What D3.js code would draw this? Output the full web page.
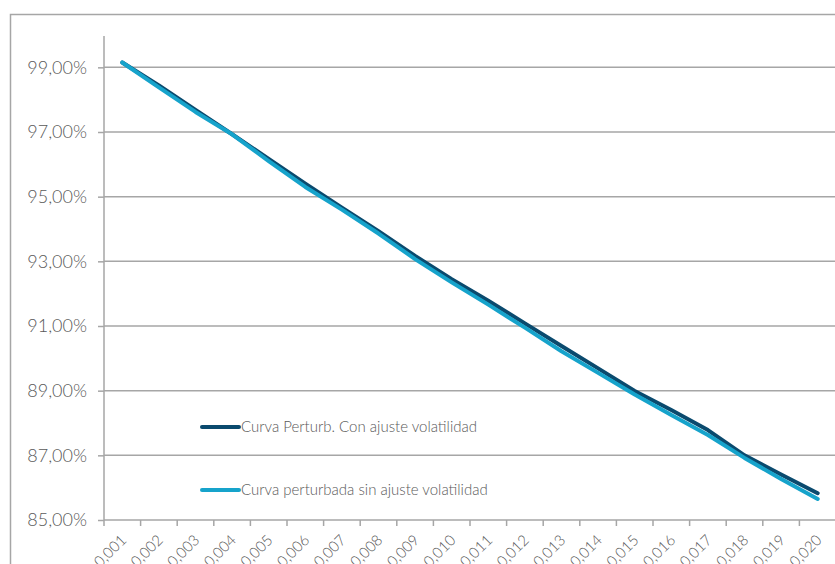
<!DOCTYPE html>
<html>
<head>
<meta charset="utf-8">
<script src="https://cdn.jsdelivr.net/npm/d3@7"></script>
<style>
  body { margin: 0; background: #fff; }
  text { font-family: Lato, "Open Sans", sans-serif; font-weight: 300; fill: #595959; }
</style>
</head>
<body>
<div id="content"></div>
<script>
const width = 835, height = 564;

const categories = ["0,001","0,002","0,003","0,004","0,005","0,006","0,007","0,008","0,009","0,010",
                    "0,011","0,012","0,013","0,014","0,015","0,016","0,017","0,018","0,019","0,020"];
const conAjuste = [99.15, 98.44, 97.68, 96.93, 96.17, 95.40, 94.66, 93.93, 93.17, 92.45,
                   91.78, 91.08, 90.38, 89.69, 88.99, 88.40, 87.78, 87.00, 86.41, 85.83];
const sinAjuste = [99.15, 98.38, 97.62, 96.93, 96.10, 95.30, 94.60, 93.86, 93.07, 92.35,
                   91.66, 90.95, 90.22, 89.55, 88.88, 88.25, 87.63, 86.92, 86.27, 85.65];
const yTicks = [85, 87, 89, 91, 93, 95, 97, 99];
const seriesNames = ["Curva Perturb. Con ajuste volatilidad", "Curva perturbada sin ajuste volatilidad"];
const seriesColors = ["#0a4a6e", "#16a3cb"];

window.addEventListener("load", () => {
  const svg = d3.select("#content").append("svg")
    .attr("width", width).attr("height", height);

  // outer chart border (runs off the right and bottom edges)
  svg.append("rect")
    .attr("x", 10.5).attr("y", 14.5)
    .attr("width", 900).attr("height", 700)
    .attr("fill", "none").attr("stroke", "#a6a6a6").attr("stroke-width", 1.5);

  const left = 104, right = 836, top = 35, bottom = 520;

  const x = d3.scaleBand().domain(categories).range([left, right]);
  const y = d3.scaleLinear().domain([85, 100]).range([bottom, top]);

  // gridlines
  svg.append("g").selectAll("line")
    .data(yTicks).enter().append("line")
    .attr("x1", left).attr("x2", width)
    .attr("y1", d => y(d)).attr("y2", d => y(d))
    .attr("stroke", "#a6a6a6").attr("stroke-width", 1.5);

  // y axis
  const yAxis = svg.append("g")
    .attr("transform", `translate(${left},0)`)
    .call(d3.axisLeft(y).tickValues(yTicks).tickSize(6).tickPadding(11)
      .tickFormat(d => d3.format(".2f")(d).replace(".", ",") + "%"));
  yAxis.select(".domain").remove();
  yAxis.append("line").attr("x1", 0).attr("x2", 0).attr("y1", 36).attr("y2", bottom);
  yAxis.selectAll("line").attr("stroke", "#a6a6a6").attr("stroke-width", 1.5);
  yAxis.selectAll("text")
    .style("font-size", "18px").style("font-family", null).attr("fill", "#595959");

  // x axis with ticks at category boundaries
  const xAxis = svg.append("g").attr("transform", `translate(0,${bottom})`);
  xAxis.selectAll("line.tick")
    .data(categories).enter().append("line")
    .attr("class", "tick")
    .attr("x1", d => x(d)).attr("x2", d => x(d))
    .attr("y1", 0).attr("y2", 6)
    .attr("stroke", "#a6a6a6").attr("stroke-width", 1.5);
  xAxis.selectAll("text")
    .data(categories).enter().append("text")
    .attr("transform", d => `translate(${x(d) + x.bandwidth() / 2 + 5},${21}) rotate(-45)`)
    .attr("text-anchor", "end")
    .style("font-size", "15px")
    .text(d => d);

  const line = d3.line()
    .x((d, i) => x(categories[i]) + x.bandwidth() / 2)
    .y(d => y(d));

  [conAjuste, sinAjuste].forEach((s, i) => {
    svg.append("path")
      .datum(s)
      .attr("d", line)
      .attr("fill", "none")
      .attr("stroke", seriesColors[i])
      .attr("stroke-width", 4)
      .attr("stroke-linecap", "round")
      .attr("stroke-linejoin", "round");
  });

  // legend
  const legendY = [427, 490];
  seriesNames.forEach((name, i) => {
    svg.append("line")
      .attr("x1", 202).attr("x2", 239)
      .attr("y1", legendY[i]).attr("y2", legendY[i])
      .attr("stroke", seriesColors[i]).attr("stroke-width", 4)
      .attr("stroke-linecap", "round");
    svg.append("text")
      .attr("x", 241).attr("y", legendY[i] + 5)
      .style("font-size", "15px")
      .text(name);
  });
});
</script>
</body>
</html>
